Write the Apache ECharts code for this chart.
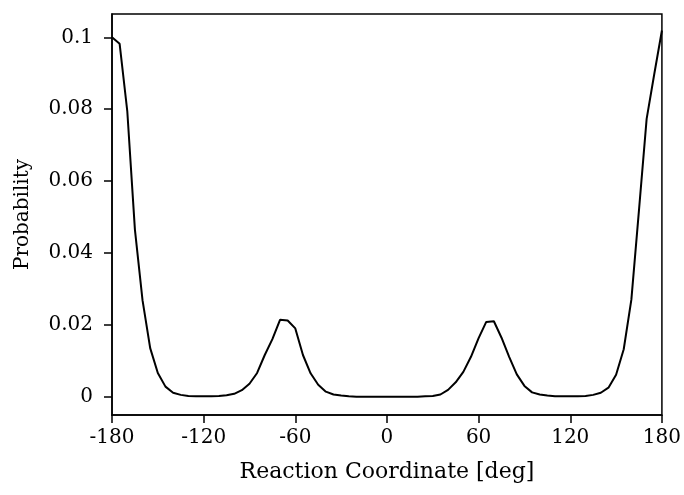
<!DOCTYPE html>
<html>
<head>
<meta charset="utf-8">
<title>Probability vs Reaction Coordinate</title>
<script src="https://cdn.jsdelivr.net/npm/echarts@6/dist/echarts.min.js"></script>
<style>
  html, body { margin: 0; padding: 0; background: #fff; }
  #chart { width: 684px; height: 495px; }
</style>
</head>
<body>
<div id="chart"></div>
<script>
// reaction coordinate, degrees (5 deg bins)
const angles = [
  -180, -175, -170, -165, -160, -155, -150, -145, -140, -135, -130, -125,
  -120, -115, -110, -105, -100, -95, -90, -85, -80, -75, -70, -65,
  -60, -55, -50, -45, -40, -35, -30, -25, -20, -15, -10, -5,
  0, 5, 10, 15, 20, 25, 30, 35, 40, 45, 50, 55,
  60, 65, 70, 75, 80, 85, 90, 95, 100, 105, 110, 115,
  120, 125, 130, 135, 140, 145, 150, 155, 160, 165, 170, 175,
  180
];

// probability
const probability = [
  0.1000, 0.0982, 0.0795, 0.0465, 0.0268, 0.0135, 0.0066, 0.0028, 0.0011, 0.0005, 0.0002, 0.0001,
  0.0001, 0.0001, 0.0002, 0.0004, 0.0008, 0.0018, 0.0036, 0.0066, 0.0116, 0.0160, 0.0214, 0.0212,
  0.0190, 0.0116, 0.0065, 0.0033, 0.0014, 0.0006, 0.0003, 0.0001, 0.0000, 0.0000, 0.0000, 0.0000,
  0.0000, 0.0000, 0.0000, 0.0000, 0.0000, 0.0001, 0.0002, 0.0006, 0.0019, 0.0040, 0.0069, 0.0111,
  0.0163, 0.0208, 0.0210, 0.0164, 0.0111, 0.0062, 0.0030, 0.0012, 0.0006, 0.0003, 0.0001, 0.0001,
  0.0001, 0.0001, 0.0002, 0.0005, 0.0011, 0.0025, 0.0061, 0.0132, 0.0270, 0.0520, 0.0773, 0.0898,
  0.1019
];

const yTicks = [0, 0.02, 0.04, 0.06, 0.08, 0.1];

const FONT = "DejaVu Serif";

const chart = echarts.init(document.getElementById("chart"), null, { renderer: "canvas" });

const option = {
  backgroundColor: "#fff",
  animation: false,
  grid: {
    left: 112,
    right: 22,
    top: 14,
    bottom: 80,
    show: true,
    borderColor: "#000",
    borderWidth: 1.5,
    backgroundColor: "transparent",
  },
  xAxis: {
    type: "value",
    min: -180,
    max: 180,
    interval: 60,
    name: "Reaction Coordinate [deg]",
    nameLocation: "middle",
    nameGap: 46,
    nameTextStyle: { fontFamily: FONT, fontSize: 22, color: "#000" },
    axisLine: { show: true, onZero: false, lineStyle: { color: "#000", width: 1.5 } },
    axisTick: { show: true, inside: false, length: 8, lineStyle: { color: "#000", width: 1.5 } },
    axisLabel: {
      fontFamily: FONT,
      fontSize: 20,
      color: "#000",
      margin: 13,
      formatter: (v) => String(v),
    },
    splitLine: { show: false },
  },
  yAxis: {
    type: "value",
    min: -0.0051,
    max: 0.1065,
    name: "Probability",
    nameLocation: "middle",
    nameGap: 79,
    nameTextStyle: { fontFamily: FONT, fontSize: 20, color: "#000" },
    axisLine: { show: true, onZero: false, lineStyle: { color: "#000", width: 1.5 } },
    axisTick: {
      show: true,
      inside: false,
      length: 8,
      customValues: yTicks,
      lineStyle: { color: "#000", width: 1.5 },
    },
    axisLabel: {
      fontFamily: FONT,
      fontSize: 20,
      color: "#000",
      margin: 19,
      customValues: yTicks,
      formatter: (v) => String(Math.round(v * 100) / 100),
    },
    splitLine: { show: false },
  },
  series: [
    {
      type: "line",
      data: angles.map((a, i) => [a, probability[i]]),
      showSymbol: false,
      smooth: false,
      lineStyle: { color: "#000", width: 2 },
      clip: true,
    },
  ],
};

chart.setOption(option);
</script>
</body>
</html>
